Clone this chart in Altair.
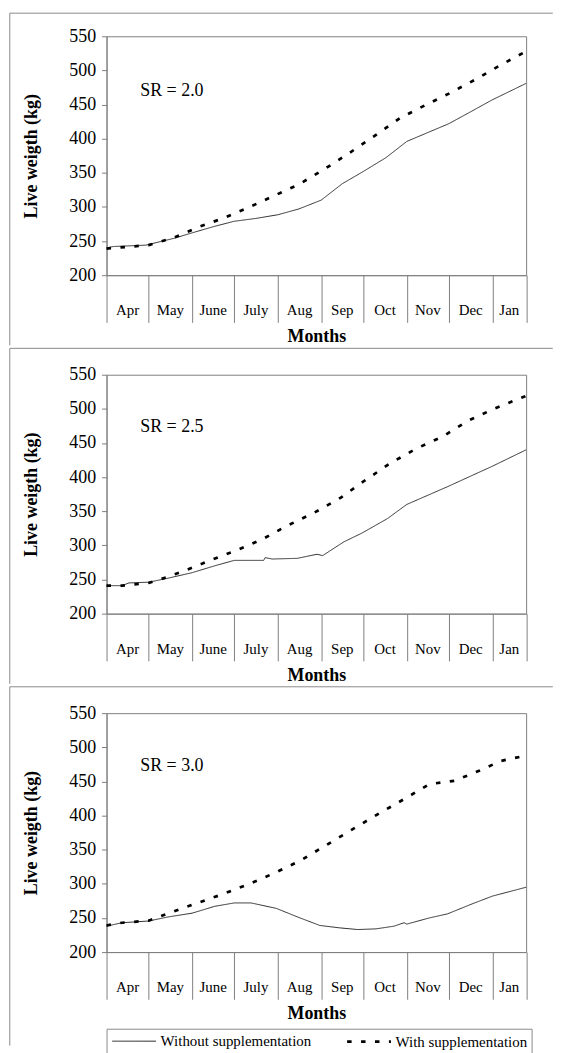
import altair as alt
import pandas as pd

FONT = "Liberation Serif"
FRAME = "#8a8a8a"
AXIS_GREY = "#7f7f7f"

MONTHS = ["Apr", "May", "June", "July", "Aug", "Sep", "Oct", "Nov", "Dec", "Jan"]
MONTH_EDGES = [0, 30, 61, 91, 122, 153, 183, 214, 244, 275, 299]
Y_TICKS = [200, 250, 300, 350, 400, 450, 500, 550]
SERIES = ["Without supplementation", "With supplementation"]
SR_LABELS = ["SR = 2.0", "SR = 2.5", "SR = 3.0"]
SR_DAY = [24, 24, 24]
SR_KG = [470, 473, 472]

# SR = 2.0
p1_without_day = [0, 5, 28, 40, 48, 61, 76, 91, 106, 122, 137, 153, 168, 183, 199, 214, 229, 244, 260, 275, 299]
p1_without_kg = [240, 242, 244, 250, 254, 262, 271, 279, 283, 288.5, 297, 310, 334, 352, 372, 396, 409, 422, 440, 457, 481]
p1_with_day = [0, 30, 48, 66, 84, 101, 119, 137, 155, 173, 191, 209, 227, 245, 264, 281, 299]
p1_with_kg = [239, 244, 255, 271, 284, 299, 316, 333, 355, 379, 404, 430, 449, 467, 488, 508, 528]

# SR = 2.5
p2_without_day = [0, 11, 16, 30, 44, 61, 77, 91, 103, 112, 113, 118, 136, 150, 154, 169, 182, 200, 214, 243, 275, 299]
p2_without_kg = [241, 241, 245, 246, 252, 260, 270, 278, 278, 278, 282, 280, 281, 287, 285, 305, 318, 339, 360, 386, 416, 440]
p2_with_day = [0, 11, 30, 44, 57, 75, 93, 111, 128, 149, 167, 184, 202, 220, 240, 258, 276, 299]
p2_with_kg = [241, 241, 245, 254, 264, 279, 293, 309, 328, 349, 370, 395, 420, 441, 460, 483, 500, 519]

# SR = 3.0
p3_without_day = [0, 11, 30, 44, 61, 77, 91, 103, 121, 136, 152, 166, 179, 192, 205, 212, 214, 230, 243, 261, 275, 299]
p3_without_kg = [238, 243, 245.5, 251.5, 257, 267, 272, 272, 264, 251.5, 239, 235.5, 233, 234, 238, 243, 241, 250, 256, 271, 282, 295]
p3_with_day = [0, 11, 30, 47, 65, 83, 103, 121, 139, 156, 177, 195, 212, 230, 248, 266, 281, 299]
p3_with_kg = [239, 243, 246, 259, 272, 285, 301, 317, 335, 356, 382, 404, 424, 446, 451, 466, 480, 488]

WIDTH = 421.5
HEIGHT = 240


def panel(i, wo_day, wo_kg, w_day, w_kg, top_rel, bottom_rel, legend):
    left_rel, right_rel = -97.2, 448.3
    df = pd.DataFrame({
        "day": wo_day + w_day,
        "kg": wo_kg + w_kg,
        "series": [SERIES[0]] * len(wo_day) + [SERIES[1]] * len(w_day),
    })
    x = alt.X(
        "day:Q",
        scale=alt.Scale(domain=[0, 299], nice=False, zero=False),
        axis=alt.Axis(values=MONTH_EDGES, labels=False, ticks=True, tickSize=47.4, grid=False,
                      title="Months", titleFontSize=18, titleFontWeight="bold", titlePadding=5,
                      domainColor=AXIS_GREY, tickColor=AXIS_GREY),
    )
    y = alt.Y(
        "kg:Q",
        scale=alt.Scale(domain=[200, 550], nice=False, zero=False),
        axis=alt.Axis(values=Y_TICKS, tickSize=5, labelPadding=6, labelFontSize=18, grid=False,
                      title="Live weigth (kg)", titleFontSize=18, titleFontWeight="bold", titlePadding=28,
                      domainColor=AXIS_GREY, tickColor=AXIS_GREY),
    )
    lines = alt.Chart(df).mark_line().encode(
        x=x,
        y=y,
        color=alt.Color("series:N", scale=alt.Scale(domain=SERIES, range=["#2b2b2b", "#000000"]), legend=legend),
        strokeDash=alt.StrokeDash("series:N", scale=alt.Scale(domain=SERIES, range=[[1, 0], [4.5, 9.5]]), legend=legend),
        strokeWidth=alt.StrokeWidth("series:N",
                                    scale=alt.Scale(type="point", domain=SERIES, range=[1, 2.7], padding=0),
                                    legend=legend),
    )
    mids = [(a + b) / 2 for a, b in zip(MONTH_EDGES[:-1], MONTH_EDGES[1:])]
    mdf = pd.DataFrame({"day": mids, "month": MONTHS})
    months = alt.Chart(mdf).mark_text(font=FONT, fontSize=15, baseline="alphabetic", color="black").encode(
        x=x, y=alt.value(280.5), text="month:N"
    )
    sdf = pd.DataFrame({"day": [SR_DAY[i]], "kg": [SR_KG[i]], "label": [SR_LABELS[i]]})
    sr = alt.Chart(sdf).mark_text(align="left", baseline="middle", fontSize=18, font=FONT, color="black").encode(
        x=x, y=y, text="label:N"
    )
    one = pd.DataFrame({"k": [0]})
    top = alt.Chart(one).mark_rule(color=FRAME, strokeWidth=1).encode(
        x=alt.value(left_rel), x2=alt.value(right_rel), y=alt.value(top_rel)
    )
    left = alt.Chart(one).mark_rule(color=FRAME, strokeWidth=1).encode(
        x=alt.value(left_rel), y=alt.value(top_rel), y2=alt.value(bottom_rel)
    )
    return alt.layer(top, left, lines, months, sr).properties(width=WIDTH, height=HEIGHT)


leg = alt.Legend(
    title=None, orient="none", legendX=0, legendY=317, direction="horizontal", columns=2,
    symbolType="M-1,0H5", symbolSize=215, labelFont=FONT, labelFontSize=15, labelColor="black",
    labelOffset=32.3, labelLimit=400, columnPadding=30, gridAlign="all", padding=4,
    strokeColor=FRAME, fillColor="white",
)

p1 = panel(0, p1_without_day, p1_without_kg, p1_with_day, p1_with_kg, -23.2, 310.5, None)
p2 = panel(1, p2_without_day, p2_without_kg, p2_with_day, p2_with_kg, -26.5, 310.5, None)
p3 = panel(2, p3_without_day, p3_without_kg, p3_with_day, p3_with_kg, -26.5, 334, leg)

chart = (
    alt.ConcatChart(concat=[p1, p2, p3], columns=1, spacing=0, align="none")
    .resolve_scale(color="independent", strokeDash="independent", strokeWidth="independent")
    .properties(padding={"left": 0, "top": 1, "right": 0, "bottom": 0})
    .configure(font=FONT)
    .configure_view(stroke=AXIS_GREY, strokeWidth=1)
    .configure_axis(labelFont=FONT, titleFont=FONT, labelColor="black", titleColor="black")
)

chart.save("out.html", embed_options={"renderer": "svg", "actions": False})
